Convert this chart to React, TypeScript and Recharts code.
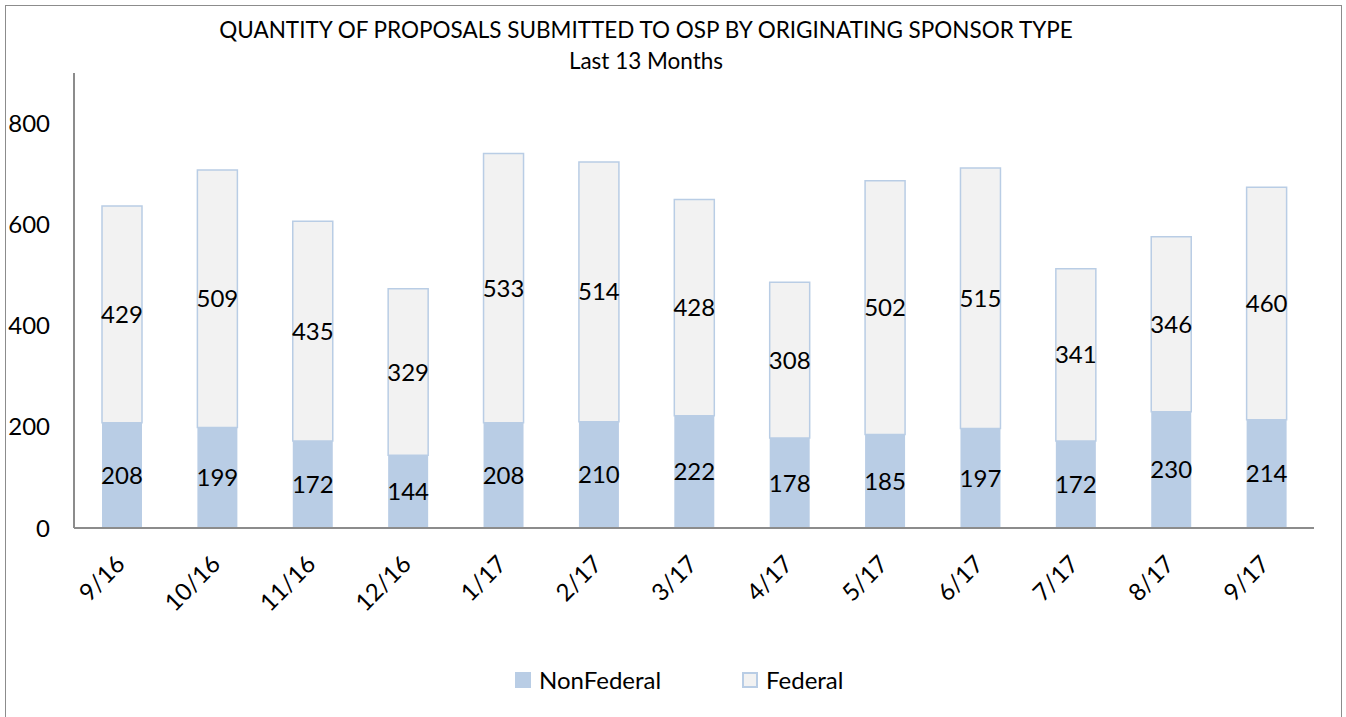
import React from 'react'
import { BarChart, Bar, XAxis, YAxis, LabelList } from 'recharts'

const months = ['9/16', '10/16', '11/16', '12/16', '1/17', '2/17', '3/17', '4/17', '5/17', '6/17', '7/17', '8/17', '9/17']
const nonFederal = [208, 199, 172, 144, 208, 210, 222, 178, 185, 197, 172, 230, 214]
const federal = [429, 509, 435, 329, 533, 514, 428, 308, 502, 515, 341, 346, 460]
const yTicks = [0, 200, 400, 600, 800]

const FONT = 'Lato, "Open Sans", sans-serif'
const BLUE = '#B9CDE5'
const GREY = '#F2F2F2'

const data = months.map((m, i) => ({
  month: m,
  nonFederal: nonFederal[i],
  federal: federal[i],
}))

function MonthTick({ x, y, payload }: any) {
  return (
    <g transform={`translate(${x - 1},${y + 24})`}>
      <text
        x={0}
        y={0}
        dy={8}
        textAnchor="end"
        transform="rotate(-45)"
        fontSize={24}
        fontFamily={FONT}
        fill="#000"
      >
        {payload.value}
      </text>
    </g>
  )
}

function LegendItem({ label, fill, stroke, left }: { label: string; fill: string; stroke: string; left: number }) {
  return (
    <div
      style={{
        position: 'absolute',
        left,
        top: 664,
        display: 'flex',
        alignItems: 'center',
        fontSize: 24,
        fontFamily: FONT,
        color: '#000',
        lineHeight: '32px',
      }}
    >
      <span
        style={{
          display: 'inline-block',
          width: 12,
          height: 12,
          background: fill,
          border: `2px solid ${stroke}`,
          marginRight: 8,
        }}
      />
      <span>{label}</span>
    </div>
  )
}

export default function App() {
  return (
    <div style={{ position: 'absolute', left: 0, top: 0, width: 1346, height: 717, overflow: 'hidden', background: '#fff' }}>
      <div
        style={{
          position: 'absolute',
          left: 5,
          top: 5,
          width: 1335,
          height: 730,
          border: '1.5px solid #8c8c8c',
        }}
      />
      <div
        style={{
          position: 'absolute',
          left: 0,
          top: 14,
          width: 1292,
          textAlign: 'center',
          fontFamily: FONT,
          fontSize: 22.5,
          lineHeight: '31px',
          color: '#000',
        }}
      >
        <div>QUANTITY OF PROPOSALS SUBMITTED TO OSP BY ORIGINATING SPONSOR TYPE</div>
        <div>Last 13 Months</div>
      </div>
      <div style={{ position: 'absolute', left: 0, top: 0 }}>
        <BarChart
          width={1346}
          height={717}
          data={data}
          margin={{ top: 73, right: 32, left: 0, bottom: 0 }}
          barSize={40}
        >
          <XAxis
            dataKey="month"
            height={189}
            tick={<MonthTick />}
            tickLine={false}
            axisLine={{ stroke: '#8c8c8c', strokeWidth: 2 }}
            interval={0}
          />
          <YAxis
            width={74}
            domain={[0, 900]}
            ticks={yTicks}
            tickLine={false}
            tickSize={0}
            tickMargin={24}
            axisLine={{ stroke: '#8c8c8c', strokeWidth: 2 }}
            tick={{ fontSize: 24, fontFamily: FONT, fill: '#000' }}
          />
          <Bar dataKey="nonFederal" name="NonFederal" stackId="a" fill={BLUE} isAnimationActive={false}>
            <LabelList dataKey="nonFederal" position="center" fontSize={24} fontFamily={FONT} fill="#000" />
          </Bar>
          <Bar
            dataKey="federal"
            name="Federal"
            stackId="a"
            fill={GREY}
            stroke={BLUE}
            strokeWidth={1.5}
            isAnimationActive={false}
          >
            <LabelList dataKey="federal" position="center" fontSize={24} fontFamily={FONT} fill="#000" stroke="none" />
          </Bar>
        </BarChart>
      </div>
      <LegendItem label="NonFederal" fill={BLUE} stroke={BLUE} left={515} />
      <LegendItem label="Federal" fill={GREY} stroke={BLUE} left={742} />
    </div>
  )
}
